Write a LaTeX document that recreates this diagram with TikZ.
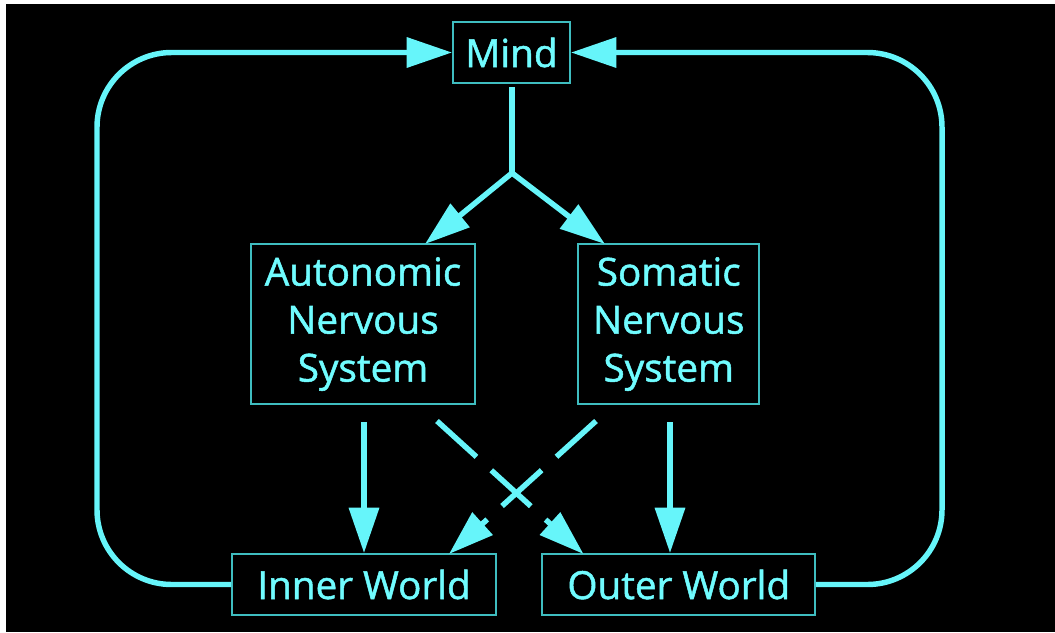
\documentclass[tikz,border=0pt]{standalone}
\usepackage{fontspec}
\newfontfamily\boxfont{Open Sans}[FakeBold=1.3]
\usetikzlibrary{arrows.meta,calc}
\definecolor{cline}{HTML}{66F5FA}
\definecolor{cbox}{HTML}{3FBDC0}
\definecolor{ctext}{HTML}{70FCFF}
\newcommand{\threelines}[3]{\raisebox{-3pt}{\begin{tabular}{@{}c@{}}#1\\#2\\#3\end{tabular}}}
\tikzset{
  px/.style={x=0.75pt,y=-0.75pt},
  box/.style={draw=cbox,line width=1.4pt,fill=black,text=ctext,inner sep=0pt,align=center,
    font=\boxfont\fontsize{29}{36}\selectfont},
  conn/.style={draw=cline,line width=4.1pt},
  tip/.style={-{Triangle[length=34pt,width=22pt]}},
  dashconn/.style={conn,dash pattern=on 40pt off 15pt}
}
\begin{document}
\begin{tikzpicture}[px]
\useasboundingbox (0,0) rectangle (1055,632);
\fill[white] (0,0) rectangle (1055,632);
\fill[black] (6,4) rectangle (1055,632);

\node[box,minimum width=87.75pt,minimum height=45.75pt] (mind) at (511.5,52.5) {Mind};
\node[box,minimum width=168pt,minimum height=120pt] (auto) at (363,324) {\threelines{Autonomic}{Nervous}{System}};
\node[box,minimum width=135.75pt,minimum height=120pt] (soma) at (668.75,324) {\threelines{Somatic}{Nervous}{System}};
\node[box,minimum width=198pt,minimum height=45.75pt] (inner) at (364,584.5) {Inner World};
\node[box,minimum width=204.75pt,minimum height=45.75pt] (outer) at (678.75,584.5) {Outer World};

% junction below Mind
\coordinate (mstart) at (512,87);
\coordinate (j) at (512,173);
\coordinate (ta) at (425,244);
\coordinate (ts) at (605,244);
\draw[conn] (mstart) -- (j);
\draw[conn,tip] (j) -- (ta);
\draw[conn,tip] (j) -- (ts);

% vertical arrows
\coordinate (av) at (364,422);
\coordinate (sv) at (670,422);
\draw[conn,tip] (av) -- (av |- inner.north);
\draw[conn,tip] (sv) -- (sv |- outer.north);

% dashed crossing arrows
\coordinate (ad) at (437,421);
\coordinate (ao) at (583.5,554);
\coordinate (sd) at (596,421);
\coordinate (si) at (449,554);
\draw[dashconn,tip] (ad) -- (ao);
\draw[dashconn,tip] (sd) -- (si);

% feedback loops
\coordinate (lb) at (97,584.5);
\coordinate (lt) at (97,52.5);
\coordinate (rb) at (942,584.5);
\coordinate (rt) at (942,52.5);
\draw[conn,tip,rounded corners=56pt] (inner.west) -- (lb) -- (lt) -- (mind.west);
\draw[conn,tip,rounded corners=56pt] (outer.east) -- (rb) -- (rt) -- (mind.east);
\end{tikzpicture}
\end{document}
